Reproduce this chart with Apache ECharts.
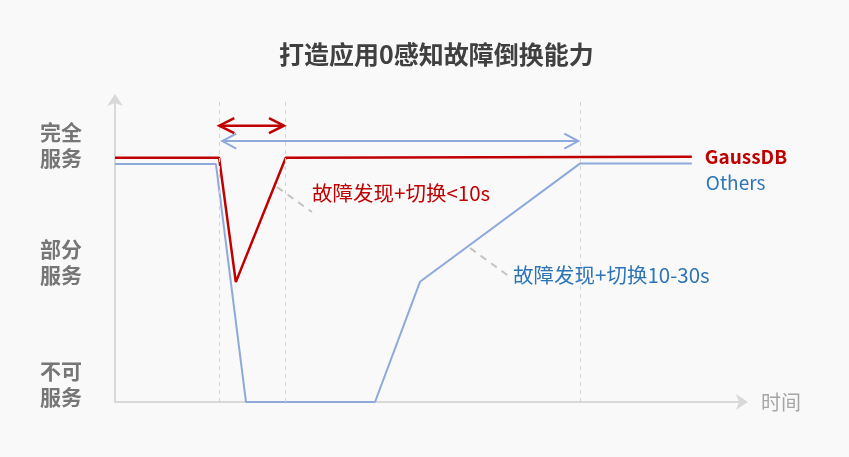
<!DOCTYPE html>
<html><head><meta charset="utf-8">
<script src="https://cdn.jsdelivr.net/npm/echarts@6/dist/echarts.min.js"></script>
<style>html,body{margin:0;padding:0;background:#f9f9f9}#c{width:849px;height:457px}</style>
</head><body><div id="c"></div>
<script>
// time axis in arbitrary units (0-100), service level 0-100
const titleText = '打造应用0感知故障倒换能力';
const levelLabels = ['完全\n服务', '部分\n服务', '不可\n服务'];
const levelValues = [85.1, 46.4, 5.8];
const gaussName = 'GaussDB';
const gaussData = [[0, 80.9], [16.6, 80.9], [19.27, 39.7], [27.23, 80.9], [92, 81.2]];
const othersName = 'Others';
const othersData = [[0, 78.8], [16.1, 78.8], [20.89, 0], [41.47, 0], [48.64, 39.8], [74.2, 79.0], [92, 79.0]];
const phaseLines = [16.63, 27.23, 74.25];
// [xStart, xEnd, y, colorIndex]
const spanArrows = [[16.63, 26.95, 91.49, 0], [17.11, 73.89, 86.42, 1]];
const noteTexts = ['故障发现+切换<10s', '故障发现+切换10-30s'];
const notePos = [[31.42, 69.2], [63.48, 42.05]];
const leaderLines = [[[25.84, 71.19], [31.42, 62.91]], [[56.62, 50.99], [63.0, 41.39]]];

const RED = '#c00000', BLUE = '#8eaadb', BLUE_TXT = '#2e75b6';
const FONT = '"Noto Sans CJK SC", "Noto Sans", sans-serif';
const arrowColors = [RED, BLUE];
const arrowWidths = [2.5, 2];

const chart = echarts.init(document.getElementById('c'), null, {renderer: 'canvas'});
chart.setOption({
  backgroundColor: '#f9f9f9',
  animation: false,
  textStyle: {fontFamily: FONT},
  title: {
    text: titleText, left: 274, top: 37,
    textStyle: {fontSize: 25, fontWeight: 'bold', color: '#404040', fontFamily: FONT}
  },
  grid: {left: 115, right: 107, top: 100, bottom: 55},
  xAxis: {
    type: 'value', min: 0, max: 100,
    name: '时间', nameLocation: 'end', nameGap: 19,
    nameTextStyle: {color: '#a6a6a6', fontSize: 20, fontFamily: FONT},
    axisLine: {show: true, symbol: ['none', 'arrow'], symbolSize: [12, 12], symbolOffset: [0, 6], lineStyle: {color: '#d9d9d9', width: 2}},
    axisTick: {show: false}, axisLabel: {show: false}, splitLine: {show: false}
  },
  yAxis: {
    type: 'value', min: 0, max: 100,
    axisLine: {show: true, symbol: ['none', 'arrow'], symbolSize: [12, 12], symbolOffset: [0, 6], lineStyle: {color: '#d9d9d9', width: 2}},
    axisTick: {show: false}, splitLine: {show: false},
    axisLabel: {
      show: true, customValues: levelValues, margin: 33,
      formatter: (v) => levelLabels[levelValues.indexOf(v)] || '',
      color: '#767676', fontSize: 21, fontWeight: 'bold', lineHeight: 26, fontFamily: FONT
    }
  },
  series: [
    {
      type: 'line', name: othersName, data: othersData, symbol: 'none',
      lineStyle: {color: BLUE, width: 2}, z: 3,
      endLabel: {show: true, formatter: othersName, color: BLUE_TXT, fontSize: 19, fontFamily: FONT, distance: 14, offset: [0, 19]},
      markLine: {
        silent: true, symbol: 'none', label: {show: false},
        lineStyle: {color: '#d3d3d3', width: 1, type: [4, 4]},
        data: phaseLines.map(x => ({xAxis: x}))
      }
    },
    {
      type: 'line', name: gaussName, data: gaussData, symbol: 'none',
      lineStyle: {color: RED, width: 2.5}, z: 4,
      endLabel: {show: true, formatter: gaussName, color: RED, fontSize: 19, fontWeight: 'bold', fontFamily: FONT, distance: 13},
      markLine: {
        silent: true, symbol: 'none', label: {show: false},
        lineStyle: {color: '#c4c4c4', width: 2, type: [7, 6]},
        data: leaderLines.map(l => [{coord: l[0]}, {coord: l[1]}])
      },
      markPoint: {
        symbol: 'circle', symbolSize: 0,
        data: notePos.map((p, i) => ({
          coord: p,
          label: {show: true, position: 'right', distance: 0, formatter: noteTexts[i],
            color: i === 0 ? RED : BLUE_TXT, fontSize: 20.5, fontFamily: FONT}
        }))
      }
    },
    {
      type: 'custom', data: spanArrows, clip: false, z: 5,
      encode: {x: [0, 1], y: 2},
      renderItem: (params, api) => {
        const p1 = api.coord([api.value(0), api.value(2)]);
        const p2 = api.coord([api.value(1), api.value(2)]);
        const ci = api.value(3);
        const c = arrowColors[ci], w = arrowWidths[ci];
        const hl = ci === 0 ? 15 : 14, hh = 7.5;
        const st = {stroke: c, lineWidth: w, fill: null};
        return {type: 'group', children: [
          {type: 'polyline', shape: {points: [p1, p2]}, style: st},
          {type: 'polyline', shape: {points: [[p1[0] + hl, p1[1] - hh], p1, [p1[0] + hl, p1[1] + hh]]}, style: st},
          {type: 'polyline', shape: {points: [[p2[0] - hl, p2[1] - hh], p2, [p2[0] - hl, p2[1] + hh]]}, style: st}
        ]};
      }
    }
  ]
});
</script></body></html>
